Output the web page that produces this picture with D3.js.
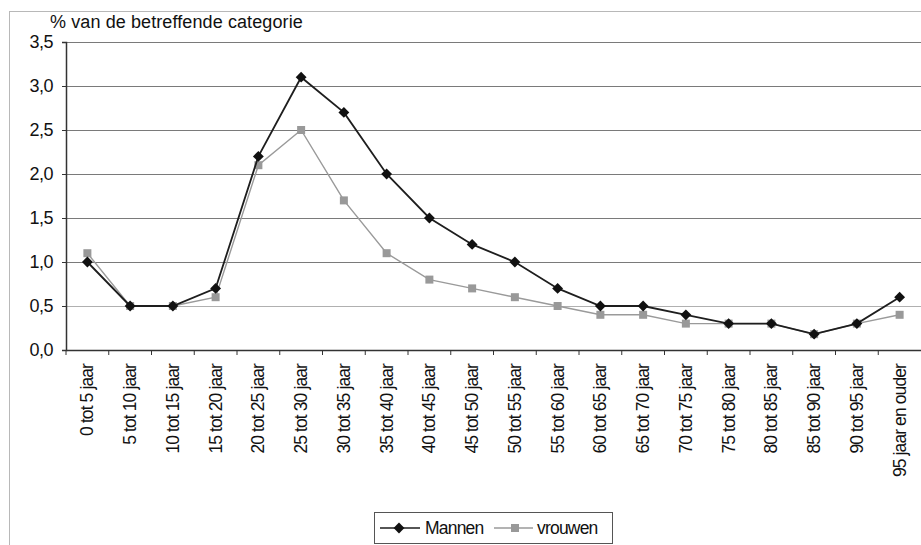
<!DOCTYPE html>
<html>
<head>
<meta charset="utf-8">
<script src="https://cdn.jsdelivr.net/npm/d3@7"></script>
<style>
  body { margin: 0; background: #fff; }
  svg { display: block; font-family: "Liberation Sans", Arial, sans-serif; }
</style>
</head>
<body>
<div id="chart"></div>
<script>
// Data
const categories = [
    '0 tot 5 jaar', '5 tot 10 jaar', '10 tot 15 jaar', '15 tot 20 jaar',
    '20 tot 25 jaar', '25 tot 30 jaar', '30 tot 35 jaar', '35 tot 40 jaar',
    '40 tot 45 jaar', '45 tot 50 jaar', '50 tot 55 jaar', '55 tot 60 jaar',
    '60 tot 65 jaar', '65 tot 70 jaar', '70 tot 75 jaar', '75 tot 80 jaar',
    '80 tot 85 jaar', '85 tot 90 jaar', '90 tot 95 jaar', '95 jaar en ouder'
];
const mannen = [1.0, 0.5, 0.5, 0.7, 2.2, 3.1, 2.7, 2.0, 1.5, 1.2, 1.0, 0.7, 0.5, 0.5, 0.4, 0.3, 0.3, 0.18, 0.3, 0.6];
const vrouwen = [1.1, 0.5, 0.5, 0.6, 2.1, 2.5, 1.7, 1.1, 0.8, 0.7, 0.6, 0.5, 0.4, 0.4, 0.3, 0.3, 0.3, 0.18, 0.3, 0.4];
const yTicks = [0, 0.5, 1.0, 1.5, 2.0, 2.5, 3.0, 3.5];

const W = 921, H = 545;
const margin = { top: 42, right: 0, bottom: 195, left: 66 };
const width = W - margin.left - margin.right;
const height = H - margin.top - margin.bottom;

const root = d3.select('#chart')
    .append('svg')
    .attr('width', W)
    .attr('height', H);

// Outer frame (right and bottom edge run off the picture)
root.append('rect')
    .attr('x', 9.5)
    .attr('y', 11.5)
    .attr('width', W)
    .attr('height', H)
    .attr('fill', 'none')
    .attr('stroke', '#b8b8b8')
    .attr('stroke-width', 1);

const svg = root.append('g')
    .attr('transform', `translate(${margin.left},${margin.top})`);

// Scales
const xScale = d3.scaleBand()
    .domain(categories)
    .range([0, width]);

const yScale = d3.scaleLinear()
    .domain([0, 3.5])
    .range([height, 0]);

// Gridlines
svg.selectAll('.grid')
    .data(yTicks.filter(d => d > 0))
    .enter()
    .append('line')
    .attr('x1', 0)
    .attr('x2', width)
    .attr('y1', d => Math.round(yScale(d)) + 0.5)
    .attr('y2', d => Math.round(yScale(d)) + 0.5)
    .attr('stroke', d => d === 0.5 ? '#b0b0b0' : '#7a7a7a')
    .attr('stroke-width', 1);

// Y axis
const yAxis = svg.append('g')
    .call(d3.axisLeft(yScale)
        .tickValues(yTicks)
        .tickSize(4)
        .tickFormat(d => d3.format('.1f')(d).replace('.', ',')));
yAxis.select('.domain').attr('stroke', '#333').attr('stroke-width', 1.5);
yAxis.selectAll('.tick line').attr('stroke', '#333');
yAxis.selectAll('.tick text')
    .attr('font-size', '18px')
    .attr('fill', '#111')
    .attr('x', -13)
    .attr('letter-spacing', '-0.5px')
    .attr('font-family', '"Liberation Sans", Arial, sans-serif');

// X axis
const xAxis = svg.append('g')
    .attr('transform', `translate(0,${height})`)
    .call(d3.axisBottom(xScale).tickSize(0).tickPadding(0));
xAxis.select('.domain').attr('stroke', '#333').attr('stroke-width', 1.5);
xAxis.selectAll('.tick text')
    .attr('font-size', '17.5px')
    .attr('fill', '#111')
    .attr('font-family', '"Liberation Sans", Arial, sans-serif')
    .attr('letter-spacing', '-0.9px')
    .attr('text-anchor', 'end')
    .attr('dominant-baseline', 'central')
    .attr('transform', 'rotate(-90)')
    .attr('x', -14)
    .attr('y', 0)
    .attr('dy', null);

// Tick marks between categories
xAxis.selectAll('.sep')
    .data(categories)
    .enter()
    .append('line')
    .attr('x1', d => xScale(d))
    .attr('x2', d => xScale(d))
    .attr('y1', 0)
    .attr('y2', 5)
    .attr('stroke', '#333');

// Axis title
root.append('text')
    .attr('x', 50)
    .attr('y', 28)
    .attr('font-size', '18px')
    .attr('fill', '#111')
    .attr('letter-spacing', '0.1px')
    .text('% van de betreffende categorie');

const cx = d => xScale(d) + xScale.bandwidth() / 2;

const line = d3.line()
    .x((d, i) => cx(categories[i]))
    .y(d => yScale(d));

// vrouwen series
svg.append('path')
    .datum(vrouwen)
    .attr('fill', 'none')
    .attr('stroke', '#9a9a9a')
    .attr('stroke-width', 1.4)
    .attr('d', line);

svg.selectAll('.sq')
    .data(vrouwen)
    .enter()
    .append('rect')
    .attr('x', (d, i) => cx(categories[i]) - 4)
    .attr('y', d => yScale(d) - 4)
    .attr('width', 8)
    .attr('height', 8)
    .attr('fill', '#999');

// Mannen series
svg.append('path')
    .datum(mannen)
    .attr('fill', 'none')
    .attr('stroke', '#1e1e1e')
    .attr('stroke-width', 1.8)
    .attr('d', line);

const diamond = d3.symbol().type(d3.symbolDiamond2).size(75);
svg.selectAll('.dm')
    .data(mannen)
    .enter()
    .append('path')
    .attr('d', diamond)
    .attr('transform', (d, i) => `translate(${cx(categories[i])},${yScale(d)})`)
    .attr('fill', '#111');

// Legend
const legend = root.append('g')
    .attr('transform', 'translate(374,512)');

legend.append('rect')
    .attr('x', 0.5)
    .attr('y', 0.5)
    .attr('width', 238)
    .attr('height', 31)
    .attr('fill', '#fff')
    .attr('stroke', '#555');

legend.append('line')
    .attr('x1', 6).attr('x2', 46)
    .attr('y1', 16).attr('y2', 16)
    .attr('stroke', '#1e1e1e').attr('stroke-width', 1.6);
legend.append('path')
    .attr('d', diamond)
    .attr('transform', 'translate(25,16)')
    .attr('fill', '#111');
legend.append('text')
    .attr('x', 51).attr('y', 22)
    .attr('font-size', '17.5px')
    .attr('letter-spacing', '-0.8px')
    .attr('fill', '#111')
    .text('Mannen');

legend.append('line')
    .attr('x1', 120).attr('x2', 159)
    .attr('y1', 16).attr('y2', 16)
    .attr('stroke', '#9a9a9a').attr('stroke-width', 1.4);
legend.append('rect')
    .attr('x', 137).attr('y', 12)
    .attr('width', 8).attr('height', 8)
    .attr('fill', '#999');
legend.append('text')
    .attr('x', 163).attr('y', 22)
    .attr('font-size', '17.5px')
    .attr('letter-spacing', '-0.8px')
    .attr('fill', '#111')
    .text('vrouwen');
</script>
</body>
</html>
